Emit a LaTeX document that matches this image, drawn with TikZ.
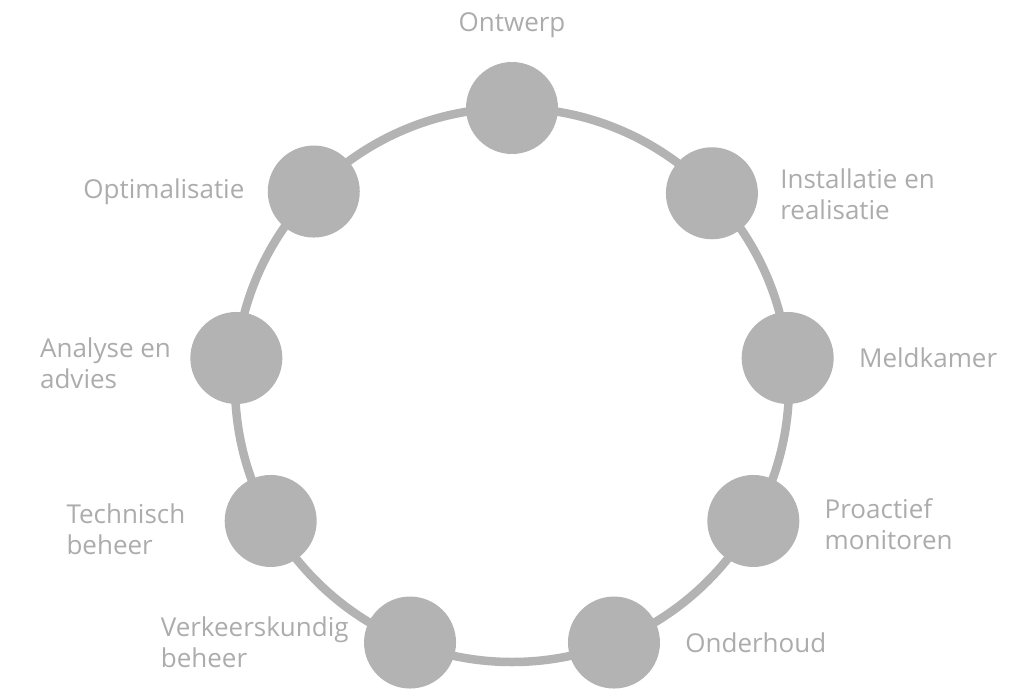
\documentclass[tikz,border=0pt]{standalone}
\usepackage{fontspec}
\setmainfont{Open Sans}
\usepackage{tikz}
\usetikzlibrary{positioning}
\definecolor{ringgray}{RGB}{179,179,179}
\definecolor{txtgray}{RGB}{172,172,172}
\tikzset{%
  ring/.style = {draw=ringgray,line width=8.5pt},
  stage/.style = {circle,fill=ringgray,inner sep=0pt,
        minimum size=92pt},
  lbl/.style = {text=txtgray,inner sep=0pt,align=left,
        font=\fontsize{26}{31}\selectfont}
}

\begin{document}
\begin{tikzpicture}
    \useasboundingbox (0,0) rectangle (1024pt,697pt);
    \coordinate (c) at (512pt,312pt);
    \draw[ring] (c) circle (277pt);
    \begin{scope}[shift={(c)}]
        \node[stage] (ontw) at (90:277pt) {};
        \node[stage] (inst) at (43.8:277pt) {};
        \node[stage] (meld) at (5.6:277pt) {};
        \node[stage] (proa) at (-29.4:277pt) {};
        \node[stage] (onde) at (-68.4:277pt) {};
        \node[stage] (verk) at (-111.6:277pt) {};
        \node[stage] (tech) at (-150.6:277pt) {};
        \node[stage] (anal) at (174.4:277pt) {};
        \node[stage] (opti) at (135.7:277pt) {};
    \end{scope}
    % labels
    \node[lbl,above=24pt of ontw] (ontwl) {Ontwerp};
    \node[lbl,right=22pt of inst,yshift=-1pt] (instl) {Installatie en\\realisatie};
    \node[lbl,right=25pt of meld] (meldl) {Meldkamer};
    \node[lbl,right=25pt of proa,yshift=-3pt] (proal) {Proactief\\monitoren};
    \node[lbl,right=25pt of onde] (ondel) {Onderhoud};
    \node[lbl,left=15pt of verk] (verkl) {Verkeerskundig\\beheer};
    \node[lbl,left=39pt of tech,yshift=-8pt] (techl) {Technisch\\beheer};
    \node[lbl,left=19pt of anal,yshift=-5pt] (anall) {Analyse en\\advies};
    \node[lbl,left=23pt of opti] (optil) {Optimalisatie};
\end{tikzpicture}
\end{document}
